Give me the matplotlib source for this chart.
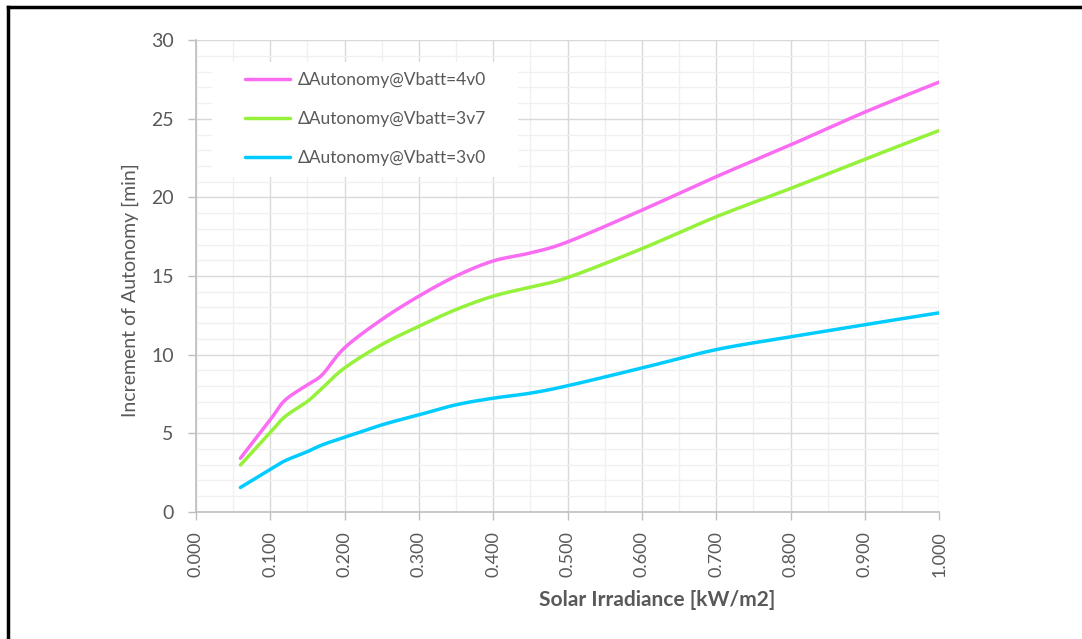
import numpy as np
import matplotlib
matplotlib.use('Agg')
import matplotlib.pyplot as plt
from matplotlib.lines import Line2D
from matplotlib.patches import Rectangle
from matplotlib.ticker import MultipleLocator, FormatStrFormatter

# irradiance nodes [kW/m2]
irradiance = [0.06, 0.10, 0.12, 0.15, 0.17, 0.20, 0.25, 0.30, 0.35, 0.40,
              0.45, 0.50, 0.60, 0.70, 0.80, 0.90, 1.00]

# increment of autonomy [min]
auto_4v0 = [3.41, 5.85, 7.10, 8.08, 8.72, 10.43, 12.23, 13.72, 15.00, 15.96,
            16.47, 17.17, 19.19, 21.32, 23.34, 25.43, 27.34]
auto_3v7 = [2.98, 5.04, 6.06, 7.02, 7.87, 9.15, 10.64, 11.80, 12.87, 13.72,
            14.30, 14.90, 16.74, 18.77, 20.57, 22.43, 24.26]
auto_3v0 = [1.55, 2.70, 3.25, 3.83, 4.26, 4.74, 5.53, 6.17, 6.81, 7.23,
            7.55, 8.02, 9.15, 10.32, 11.13, 11.91, 12.66]

labels = ['ΔAutonomy@Vbatt=4v0', 'ΔAutonomy@Vbatt=3v7', 'ΔAutonomy@Vbatt=3v0']
colors = ['#FA6CF2', '#95F13A', '#00CCFF']


def smooth(x, y, n=30):
    # catmull-rom, like excel's smoothed line
    x = np.asarray(x, float)
    y = np.asarray(y, float)
    px = np.concatenate([[2 * x[0] - x[1]], x, [2 * x[-1] - x[-2]]])
    py = np.concatenate([[2 * y[0] - y[1]], y, [2 * y[-1] - y[-2]]])
    xs, ys = [], []
    t = np.linspace(0, 1, n, endpoint=False)
    for i in range(1, len(px) - 2):
        for p, out in ((px, xs), (py, ys)):
            p0, p1, p2, p3 = p[i - 1], p[i], p[i + 1], p[i + 2]
            out.extend(0.5 * ((2 * p1) + (-p0 + p2) * t
                              + (2 * p0 - 5 * p1 + 4 * p2 - p3) * t ** 2
                              + (-p0 + 3 * p1 - 3 * p2 + p3) * t ** 3))
    xs.append(x[-1])
    ys.append(y[-1])
    return np.array(xs), np.array(ys)


plt.rcParams['font.family'] = ['Lato', 'DejaVu Sans']
gray = '#595959'

fig = plt.figure(figsize=(10.82, 6.39), dpi=100)
ax = fig.add_axes([0.181, 0.199, 0.687, 0.738])

for y, lab, c in zip([auto_4v0, auto_3v7, auto_3v0], labels, colors):
    sx, sy = smooth(irradiance, y)
    ax.plot(sx, sy, color=c, lw=2.5, label=lab, solid_capstyle='round', zorder=3)

ax.set_xlim(0, 1.0)
ax.set_ylim(0, 30)
ax.xaxis.set_major_locator(MultipleLocator(0.1))
ax.xaxis.set_minor_locator(MultipleLocator(0.05))
ax.yaxis.set_major_locator(MultipleLocator(5))
ax.yaxis.set_minor_locator(MultipleLocator(1))
ax.xaxis.set_major_formatter(FormatStrFormatter('%.3f'))

ax.grid(which='major', color='#D9D9D9', lw=1.0, zorder=0)
ax.grid(which='minor', color='#F0F0F0', lw=1.0, zorder=0)
ax.set_axisbelow(True)

for s in ['top', 'right']:
    ax.spines[s].set_visible(False)
for s in ['left', 'bottom']:
    ax.spines[s].set_color('#BFBFBF')
    ax.spines[s].set_linewidth(1.2)

ax.tick_params(which='major', axis='both', colors='#BFBFBF', labelcolor=gray,
               labelsize=13, length=6, width=1.0)
ax.tick_params(which='minor', length=0)
ax.tick_params(axis='y', pad=10, labelsize=14)
ax.tick_params(axis='x', pad=8)
plt.setp(ax.get_xticklabels(), rotation=90)

ax.set_ylabel('Increment of Autonomy [min]', fontsize=14, color=gray)
ax.yaxis.set_label_coords(-0.077, 0.47)
ax.set_xlabel('Solar Irradiance [kW/m2]', fontsize=15, color=gray,
              fontweight='bold')
ax.xaxis.set_label_coords(0.62, -0.165)

# white box behind the legend, over the grid
ax.add_patch(Rectangle((0.0215, 0.710), 0.412, 0.243, transform=ax.transAxes,
                       facecolor='white', edgecolor='none', zorder=1))
leg = ax.legend(loc='upper left', bbox_to_anchor=(0.066, 0.932), fontsize=12.5,
                frameon=False, handlelength=2.6, handletextpad=0.45,
                labelspacing=1.32, borderpad=0, borderaxespad=0)
for t in leg.get_texts():
    t.set_color(gray)

# black frame lines (top and left)
fig.add_artist(Line2D([0.007, 1.0], [0.989, 0.989], color='black', lw=2.5,
                      transform=fig.transFigure))
fig.add_artist(Line2D([0.0075, 0.0075], [0.0, 0.989], color='black', lw=2.5,
                      transform=fig.transFigure))

fig.savefig('out.png', dpi=100)
